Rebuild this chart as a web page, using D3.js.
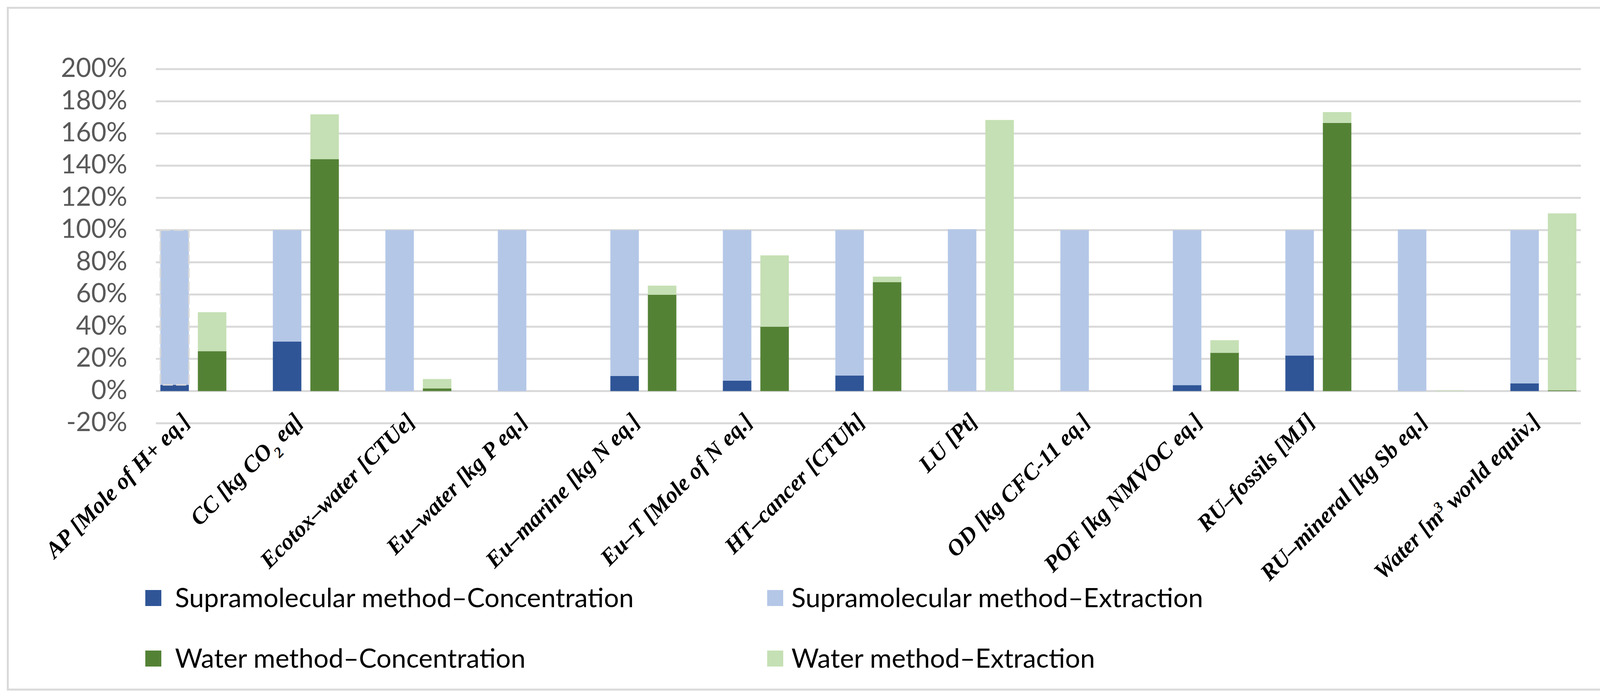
<!DOCTYPE html>
<html>
<head>
<meta charset="utf-8">
<script src="https://cdn.jsdelivr.net/npm/d3@7"></script>
<style>
  body { margin: 0; background: #fff; }
</style>
</head>
<body>
<svg id="chart"></svg>
<script>
// impact categories, in plot order
const categories = [
  "AP [Mole of H+ eq.]",
  "CC [kg CO2 eq]",
  "Ecotox–water [CTUe]",
  "Eu–water [kg P eq.]",
  "Eu–marine [kg N eq.]",
  "Eu–T [Mole of N eq.]",
  "HT–cancer [CTUh]",
  "LU [Pt]",
  "OD [kg CFC-11 eq.]",
  "POF [kg NMVOC eq.]",
  "RU–fossils [MJ]",
  "RU–mineral [kg Sb eq.]",
  "Water [m3 world equiv.]",
];

// values in %
const supraConcentration = [3.9, 30.8, 0, 0, 9.4, 6.5, 9.7, 0, 0, 3.7, 22.1, 0, 4.8];
const supraExtraction = [96.1, 69.2, 100, 100, 90.6, 93.5, 90.3, 100.5, 100, 96.3, 77.9, 100.3, 95.2];
const waterConcentration = [24.8, 144.1, 1.7, 0, 59.8, 40.0, 67.7, 0, 0, 23.8, 166.6, 0, 0.5];
const waterExtraction = [24.2, 27.8, 5.8, 0, 5.7, 44.3, 3.4, 168.4, 0, 7.8, 6.7, 0.4, 109.9];

const yTicks = [-20, 0, 20, 40, 60, 80, 100, 120, 140, 160, 180, 200];

const seriesNames = [
  "Supramolecular method–Concentration",
  "Supramolecular method–Extraction",
  "Water method–Concentration",
  "Water method–Extraction",
];
const colors = ["#2f5597", "#b4c7e7", "#548235", "#c5e0b4"];

const width = 4140;
const height = 1785;
const plot = { left: 399, right: 4047, top: 177, bottom: 1084 };

const svg = d3.select("#chart").attr("width", width).attr("height", height);

// chart frame
svg
  .append("rect")
  .attr("x", 20)
  .attr("y", 20)
  .attr("width", 4098)
  .attr("height", 1746)
  .attr("fill", "#fff")
  .attr("stroke", "#d9d9d9")
  .attr("stroke-width", 5);

// each category uses two bar slots plus one empty slot as spacer
const nSlots = categories.length * 3 - 1;
const x = d3
  .scaleBand()
  .domain(d3.range(nSlots))
  .range([plot.left, plot.right])
  .paddingInner(0.24)
  .paddingOuter(0.12);

const y = d3.scaleLinear().domain([-20, 200]).range([plot.bottom, plot.top]);

// gridlines
svg
  .append("g")
  .selectAll("line")
  .data(yTicks)
  .join("line")
  .attr("x1", plot.left)
  .attr("x2", plot.right)
  .attr("y1", (d) => y(d))
  .attr("y2", (d) => y(d))
  .attr("stroke", "#d9d9d9")
  .attr("stroke-width", 5);

// y tick labels
svg
  .append("g")
  .selectAll("text")
  .data(yTicks)
  .join("text")
  .attr("x", 326)
  .attr("y", (d) => y(d))
  .attr("dy", "0.3em")
  .attr("text-anchor", "end")
  .attr("font-family", "Lato, 'Open Sans', sans-serif")
  .attr("font-size", 67)
  .attr("fill", "#595959")
  .text((d) => d + "%");

// stacked bars
const stack = d3.stack().keys(["conc", "ext"]);
const supraRows = categories.map((c, i) => ({
  cat: c,
  conc: supraConcentration[i],
  ext: supraExtraction[i],
}));
const waterRows = categories.map((c, i) => ({
  cat: c,
  conc: waterConcentration[i],
  ext: waterExtraction[i],
}));

function drawStack(rows, slotOffset, colorOffset) {
  const layers = stack(rows);
  const g = svg.append("g");
  layers.forEach((layer, li) => {
    g.append("g")
      .attr("fill", colors[colorOffset + li])
      .selectAll("rect")
      .data(layer)
      .join("rect")
      .attr("x", (d, i) => x(i * 3 + slotOffset))
      .attr("width", x.bandwidth())
      .attr("y", (d) => y(d[1]))
      .attr("height", (d) => y(d[0]) - y(d[1]));
  });
  return g;
}

drawStack(supraRows, 0, 0);
drawStack(waterRows, 1, 2);

// dashed outline on the first extraction segment (as in the original)
const apStack = stack(supraRows)[1][0];
svg
  .append("rect")
  .attr("x", x(0))
  .attr("width", x.bandwidth())
  .attr("y", y(apStack[1]))
  .attr("height", y(apStack[0]) - y(apStack[1]))
  .attr("fill", "none")
  .attr("stroke", "#d9d9d9")
  .attr("stroke-width", 4)
  .attr("stroke-dasharray", "26 8");

// category labels, rotated
const labelFont = "'Liberation Serif', 'Times New Roman', serif";
const catCenter = (i) => x(i * 3) + x.step() / 2 + x.bandwidth() / 2;

const labels = svg
  .append("g")
  .selectAll("text")
  .data(categories)
  .join("text")
  .attr("transform", (d, i) => `translate(${catCenter(i) - 5},1082) rotate(-45)`)
  .attr("text-anchor", "end")
  .attr("font-family", labelFont)
  .attr("font-size", 59)
  .attr("font-weight", "bold")
  .attr("font-style", "italic")
  .attr("fill", "#000");

labels.each(function (d) {
  const t = d3.select(this);
  const m = d.match(/^(.*CO)2( eq\])$/) || d.match(/^(.*\[m)3( world equiv\.\])$/);
  if (!m) {
    t.text(d);
    return;
  }
  const isSub = d.includes("CO2");
  t.append("tspan").text(m[1]);
  t.append("tspan")
    .attr("font-size", 38)
    .attr("baseline-shift", isSub ? "sub" : "super")
    .text(isSub ? "2" : "3");
  t.append("tspan").text(m[2]);
});

// legend
const legendPos = [
  { x: 372, tx: 448, y: 1531 },
  { x: 1964, tx: 2026, y: 1531 },
  { x: 372, tx: 448, y: 1686 },
  { x: 1964, tx: 2026, y: 1686 },
];

const legend = svg
  .append("g")
  .selectAll("g")
  .data(seriesNames)
  .join("g");

legend
  .append("rect")
  .attr("x", (d, i) => legendPos[i].x)
  .attr("y", (d, i) => legendPos[i].y - 20)
  .attr("width", 41)
  .attr("height", 41)
  .attr("fill", (d, i) => colors[i]);

legend
  .append("text")
  .attr("x", (d, i) => legendPos[i].tx)
  .attr("y", (d, i) => legendPos[i].y)
  .attr("dy", "0.36em")
  .attr("font-family", "Lato, 'Open Sans', sans-serif")
  .attr("font-size", 68)
  .attr("fill", "#000")
  .text((d) => d);
</script>
</body>
</html>
